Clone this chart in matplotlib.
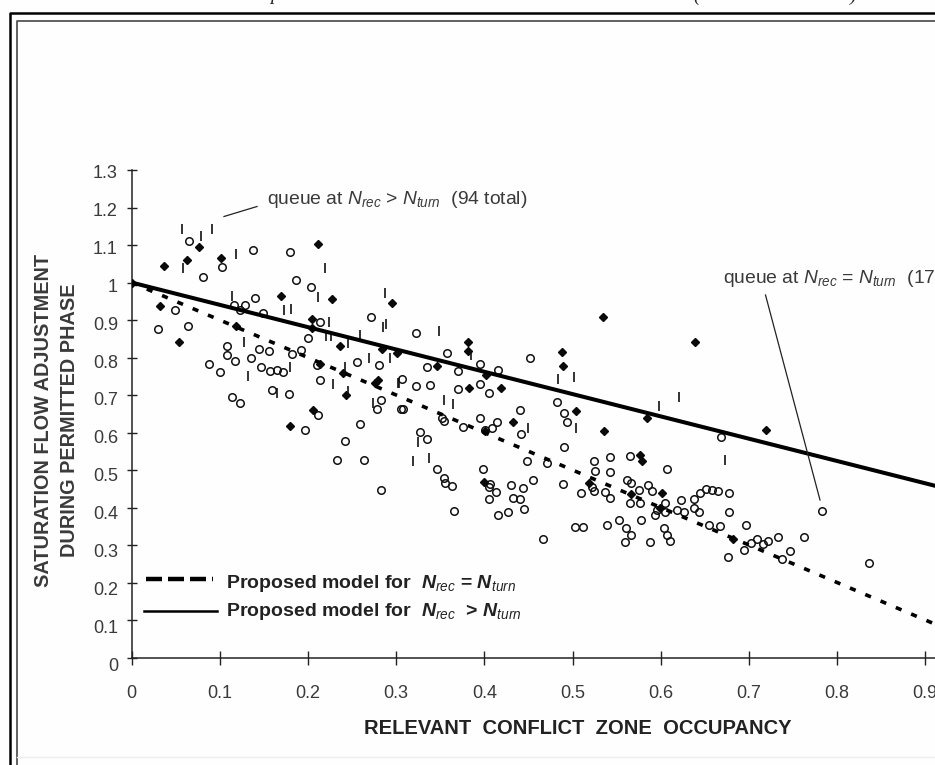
import matplotlib
matplotlib.use('Agg')
import matplotlib.pyplot as plt
from matplotlib.lines import Line2D
from matplotlib.transforms import ScaledTranslation

plt.rcParams['font.family'] = ['Liberation Sans', 'DejaVu Sans']
plt.rcParams['mathtext.fontset'] = 'custom'
plt.rcParams['mathtext.rm'] = 'Liberation Sans'
plt.rcParams['mathtext.it'] = 'Liberation Sans:italic'
plt.rcParams['mathtext.bf'] = 'Liberation Sans:bold'
plt.rcParams['mathtext.bfit'] = 'Liberation Sans:italic:bold'

W, H = 935, 765

# queue at Nrec = Nturn
circle_x = [.065, .138, .180, .103, .081, .187, .203, .140, .116, .129, .123, .149, .272, .049, .064, .030,
            .214, .200, .108, .108, .117, .088, .136, .147, .144, .156, .182, .192, .210, .256, .281, .157,
            .165, .100, .172, .159, .179, .114, .123, .214, .283, .278, .212, .259, .197, .242, .233, .264,
            .283, .305, .322, .358, .335, .370, .395, .416, .452, .395, .307, .322, .339, .370, .405, .308,
            .482, .490, .494, .441, .352, .354, .395, .414, .376, .409, .401, .442, .490, .327, .335, .346,
            .354, .356, .363, .399, .448, .471, .406, .405, .413, .405, .430, .444, .455, .433, .440, .489,
            .366, .415, .427, .445, .467, .503, .512, .539, .510, .524, .525, .543, .565, .543, .524, .537,
            .543, .562, .566, .575, .586, .590, .565, .577, .553, .561, .566, .560, .578, .588, .607, .605,
            .594, .596, .605, .604, .607, .610, .522, .668, .783, .623, .638, .644, .651, .658, .665, .678,
            .618, .626, .638, .643, .677, .655, .667, .697, .733, .763, .722, .709, .702, .716, .694, .676,
            .747, .737, .836]
circle_y = [1.111, 1.088, 1.081, 1.041, 1.016, 1.007, .989, .958, .940, .939, .927, .918, .908, .927, .885, .875,
            .895, .851, .830, .807, .791, .784, .800, .776, .824, .818, .810, .819, .780, .789, .779, .765,
            .768, .762, .761, .713, .704, .696, .678, .740, .688, .664, .647, .624, .607, .578, .527, .527,
            .447, .664, .865, .811, .776, .765, .784, .767, .798, .729, .744, .724, .727, .717, .706, .664,
            .682, .653, .629, .660, .640, .632, .638, .629, .616, .611, .607, .596, .562, .602, .582, .503,
            .479, .466, .458, .504, .525, .519, .464, .455, .442, .424, .459, .453, .473, .426, .424, .462,
            .391, .381, .389, .396, .316, .349, .349, .353, .440, .524, .497, .536, .538, .494, .444, .442,
            .426, .473, .466, .447, .460, .444, .411, .413, .368, .346, .327, .307, .367, .307, .502, .411,
            .380, .393, .387, .346, .327, .311, .454, .589, .392, .420, .424, .440, .449, .447, .443, .438,
            .393, .389, .398, .388, .387, .353, .351, .353, .322, .321, .311, .315, .306, .302, .287, .267,
            .284, .262, .253]

# queue at Nrec > Nturn, solid diamonds
diamond_x = [0, .037, .063, .077, .102, .211, .032, .054, .169, .227, .295, .119, .205, .236, .284, .301, .214,
             .205, .240, .243, .206, .180, .280, .276, .346, .381, .381, .402, .383, .419, .535, .488, .489,
             .504, .536, .584, .432, .401, .400, .519, .577, .579, .602, .599, .566, .639, .719, .682]
diamond_y = [1.0, 1.043, 1.060, 1.094, 1.065, 1.103, .938, .841, .965, .957, .945, .885, .904, .831, .823, .813, .782,
             .880, .758, .700, .660, .617, .740, .731, .778, .841, .817, .753, .718, .720, .909, .814, .777,
             .658, .605, .638, .629, .605, .468, .466, .540, .525, .438, .400, .435, .841, .606, .317]

# queue at Nrec > Nturn, thin vertical marks
dash_x = [.057, .079, .091, .118, .058, .219, .114, .211, .287, .173, .181, .224, .285, .289, .128, .221, .226,
          .259, .246, .269, .293, .242, .180, .132, .165, .229, .245, .274, .303, .349, .385, .302, .483, .502,
          .598, .354, .365, .449, .504, .325, .319, .337, .621, .673]
dash_y = [1.144, 1.124, 1.144, 1.075, 1.039, 1.040, .964, .962, .973, .928, .930, .895, .882, .889, .842, .858, .858,
          .860, .838, .798, .798, .776, .776, .752, .705, .729, .712, .678, .731, .872, .807, .733, .744, .749,
          .671, .687, .675, .611, .611, .574, .524, .531, .695, .527]

line_x = [0, 1]
model_turn_y = [1.0, 0.405]
model_equal_y = [1.0, 0.0]

x_ticks = [0, .1, .2, .3, .4, .5, .6, .7, .8, .9]
x_tick_labels = ['0', '0.1', '0.2', '0.3', '0.4', '0.5', '0.6', '0.7', '0.8', '0.9']
y_ticks = [0, .1, .2, .3, .4, .5, .6, .7, .8, .9, 1, 1.1, 1.2, 1.3]
y_tick_labels = ['0', '0.1', '0.2', '0.3', '0.4', '0.5', '0.6', '0.7', '0.8', '0.9', '1', '1.1', '1.2', '1.3']

TXT = '#3a3a3a'


def fx(px):
    return px / W


def fy(py):
    return 1 - py / H


fig = plt.figure(figsize=(W / 100, H / 100), dpi=100, facecolor='#fefefe')
ax = fig.add_axes([fx(131.5), fy(657.5), fx(935 - 131.5), (657.5 - 170) / H])
ax.patch.set_visible(False)
ax.set_xlim(0, (935 - 131.5) / 882)
ax.set_ylim(0, 1.3)

ax.plot(circle_x, circle_y, 'o', ms=5.4, mfc='none', mec='#111111', mew=1.1, zorder=2)
ax.plot(diamond_x, diamond_y, 'D', ms=4.5, color='#0a0a0a', zorder=3)
ax.plot(dash_x, dash_y, '|', ms=6.5, mew=1.2, color='#111111', zorder=3)

ax.plot(line_x, model_turn_y, color='black', lw=2.9, zorder=4)
ax.plot(line_x, model_equal_y, color='black', lw=2.6, dashes=(1.7, 2.9), zorder=4)

for side in ['top', 'right']:
    ax.spines[side].set_visible(False)
for side in ['left', 'bottom']:
    ax.spines[side].set_linewidth(1.1)
    ax.spines[side].set_color('#222222')

ax.set_xticks(x_ticks)
ax.set_xticklabels(x_tick_labels)
ax.set_yticks(y_ticks)
ax.set_yticklabels(y_tick_labels)
ax.tick_params(axis='x', direction='inout', length=9.5, width=1, color='#222222', pad=15,
               labelsize=13, labelcolor=TXT)
ax.tick_params(axis='y', direction='inout', length=7.5, width=1, color='#222222', pad=6,
               labelsize=13, labelcolor=TXT)
# the labels sit lower than their ticks, more so towards the bottom of the axis
for lab, val in zip(ax.get_yticklabels(), y_ticks):
    drop = 7.2 - 6 * val / 1.3
    lab.set_transform(lab.get_transform() + ScaledTranslation(0, -drop / 100, fig.dpi_scale_trans))

# axis titles
fig.text(fx(44), fy(420), 'SATURATION FLOW ADJUSTMENT', rotation=90, ha='center', va='center',
         fontsize=14.3, fontweight='bold', color=TXT)
fig.text(fx(70), fy(420), 'DURING PERMITTED PHASE', rotation=90, ha='center', va='center',
         fontsize=14.3, fontweight='bold', color=TXT)
fig.text(fx(578), fy(728), 'RELEVANT  CONFLICT  ZONE  OCCUPANCY', ha='center', va='center',
         fontsize=14.5, fontweight='bold', color='#222222')

# model key
fig.add_artist(Line2D([fx(146), fx(213)], [fy(579), fy(579)], color='black', lw=3.2, dashes=(3.6, 1.35)))
fig.add_artist(Line2D([fx(144), fx(217)], [fy(610.5), fy(610.5)], color='black', lw=1.8))
fig.text(fx(226), fy(584), r'Proposed model for  $\mathbfit{N}_{\mathit{rec}}$ = $\mathbfit{N}_{\mathit{turn}}$',
         va='center', fontsize=14, fontweight='bold', color='#222222')
fig.text(fx(226), fy(612), r'Proposed model for  $\mathbfit{N}_{\mathit{rec}}$  > $\mathbfit{N}_{\mathit{turn}}$',
         va='center', fontsize=14, fontweight='bold', color='#222222')

# callouts
fig.text(fx(267), fy(199), r'queue at $\mathit{N}_{rec}$ > $\mathit{N}_{turn}$  (94 total)',
         va='center', fontsize=13.9, color=TXT)
fig.add_artist(Line2D([fx(224), fx(257)], [fy(216.5), fy(206.5)], color='#222222', lw=0.9))
fig.text(fx(723), fy(278), r'queue at $\mathit{N}_{rec}$ = $\mathit{N}_{turn}$  (17',
         va='center', fontsize=13.9, color=TXT)
fig.add_artist(Line2D([fx(765.5), fx(820)], [fy(295), fy(500)], color='#222222', lw=0.9))

# bottom of the line of text above the frame, cut off by the page
for px, s in [(270, 'p'), (693, '('), (850, ')')]:
    fig.text(fx(px), fy(0.5), s, family='Liberation Serif', style='italic', fontsize=14,
             va='baseline', color='#222222')

# page frame
fig.add_artist(Line2D([fx(9.5), fx(9.5), fx(935)], [0, fy(13), fy(13)], color='black', lw=1.8))
fig.add_artist(Line2D([fx(17), fx(17), fx(935)], [0, fy(21), fy(21)], color='#555555', lw=1.3))
fig.add_artist(Line2D([fx(17), fx(935)], [fy(757), fy(757)], color='#eeeeee', lw=1))

fig.savefig('out.png', dpi=100, facecolor=fig.get_facecolor())
